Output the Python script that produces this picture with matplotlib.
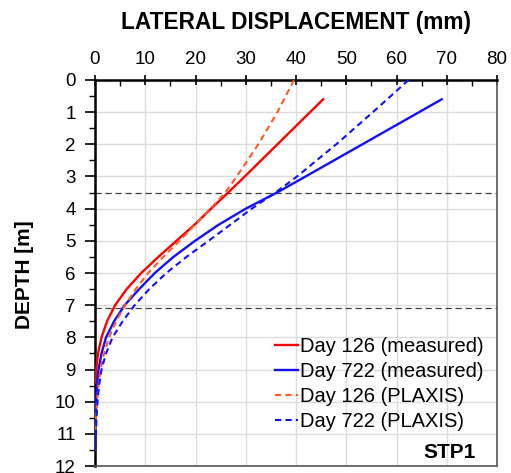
import matplotlib
matplotlib.use("Agg")
import matplotlib.pyplot as plt
from matplotlib.ticker import MultipleLocator

plt.rcParams['font.family'] = ['Liberation Sans', 'DejaVu Sans']

# Day 126 (measured)
depth_126_meas = [0.6, 2.0, 3.0, 3.5, 4.0, 4.5, 5.0, 5.5, 6.0, 6.5, 7.0, 7.5, 8.0, 8.5, 9.0, 9.4]
disp_126_meas = [45.4, 36.3, 29.8, 26.5, 23.1, 19.8, 16.2, 12.6, 9.2, 6.3, 4.0, 2.4, 1.3, 0.6, 0.25, 0.0]

# Day 722 (measured)
depth_722_meas = [0.6, 2.0, 3.0, 3.5, 4.0, 4.5, 5.0, 5.5, 6.0, 6.5, 7.0, 7.5, 8.0, 8.5, 9.0, 9.5, 10.0, 10.5, 11.0, 11.5]
disp_722_meas = [69.0, 53.2, 41.9, 36.2, 30.0, 24.6, 19.9, 15.6, 11.9, 8.8, 5.9, 3.8, 2.2, 1.3, 0.7, 0.4, 0.2, 0.1, 0.05, 0.0]

# Day 126 (PLAXIS)
depth_126_plx = [0.0, 1.0, 2.0, 3.0, 3.5, 4.0, 4.5, 5.0, 5.5, 6.0, 6.5, 7.0, 7.5, 8.0, 8.5, 9.0, 9.5, 10.0, 10.5, 11.0]
disp_126_plx = [39.6, 36.3, 32.5, 28.2, 25.9, 23.0, 19.9, 16.8, 13.6, 10.6, 8.1, 6.0, 4.2, 2.8, 1.8, 1.1, 0.7, 0.4, 0.2, 0.1]

# Day 722 (PLAXIS)
depth_722_plx = [0.0, 1.0, 2.0, 3.0, 3.5, 4.0, 4.5, 5.0, 5.5, 6.0, 6.5, 7.0, 7.5, 8.0, 8.5, 9.0, 9.5, 10.0, 10.5, 11.0]
disp_722_plx = [62.4, 55.3, 48.0, 40.2, 35.9, 31.2, 26.9, 22.6, 18.2, 14.2, 10.8, 7.9, 5.5, 3.5, 2.2, 1.3, 0.8, 0.5, 0.3, 0.2]

boundary_depths = [3.5, 7.1]

x_ticks = [0, 10, 20, 30, 40, 50, 60, 70, 80]
y_ticks = list(range(0, 13))

W, H = 511, 473
fig = plt.figure(figsize=(W / 100, H / 100), dpi=100)
ax = fig.add_axes([95 / W, 1 - 466 / H, (497 - 95) / W, (466 - 80) / H])

ax.set_xlim(0, 80)
ax.set_ylim(12, 0)

ax.grid(True, which='major', color='#dcdcdc', linewidth=1.0, zorder=0)
ax.set_axisbelow(True)

for d in boundary_depths:
    ax.axhline(d, color='#404040', linewidth=0.9, linestyle=(0, (5, 3)), zorder=1)

ax.plot(disp_126_meas, depth_126_meas, color='#ff0000', lw=1.7, label='Day 126 (measured)', zorder=3)
ax.plot(disp_722_meas, depth_722_meas, color='#1010ff', lw=1.7, label='Day 722 (measured)', zorder=3)
ax.plot(disp_126_plx, depth_126_plx, color='#ff5a28', lw=1.5, linestyle=(0, (3, 2)), label='Day 126 (PLAXIS)', zorder=3)
ax.plot(disp_722_plx, depth_722_plx, color='#1010ff', lw=1.5, linestyle=(0, (3, 2)), label='Day 722 (PLAXIS)', zorder=3)

ax.xaxis.tick_top()
ax.set_xticks(x_ticks)
ax.set_yticks(y_ticks)
ax.xaxis.set_minor_locator(MultipleLocator(5))
ax.yaxis.set_minor_locator(MultipleLocator(0.5))
ax.tick_params(axis='x', which='major', direction='inout', length=7, width=1.2, labelsize=13.5, pad=5)
ax.tick_params(axis='x', which='minor', direction='in', length=4, width=1.0)
ax.tick_params(axis='y', which='major', direction='out', length=7, width=1.2, labelsize=13.5, pad=7)
ax.tick_params(axis='y', which='minor', direction='out', length=4, width=1.0)

ax.spines['top'].set_linewidth(1.8)
ax.spines['left'].set_linewidth(1.8)
ax.spines['top'].set_color('black')
ax.spines['left'].set_color('black')
ax.spines['right'].set_color('#555555')
ax.spines['bottom'].set_color('#555555')
ax.spines['right'].set_linewidth(1.2)
ax.spines['bottom'].set_linewidth(1.2)

fig.text(296 / W, 1 - 22 / H, 'LATERAL DISPLACEMENT (mm)', ha='center', va='center',
         fontsize=16.3, fontweight='bold')
fig.text(25 / W, 1 - 275 / H, 'DEPTH [m]', ha='center', va='center', rotation=90,
         fontsize=15, fontweight='bold')

leg = ax.legend(loc='upper left', bbox_to_anchor=(275 / W, 1 - 337 / H),
                bbox_transform=fig.transFigure, frameon=False, fontsize=14.5,
                borderpad=0, borderaxespad=0, handlelength=1.15, handletextpad=0.1,
                labelspacing=0.3)

fig.text(476 / W, 1 - 452 / H, 'STP1', ha='right', va='center', fontsize=15, fontweight='bold')

fig.savefig('out.png', dpi=100)
